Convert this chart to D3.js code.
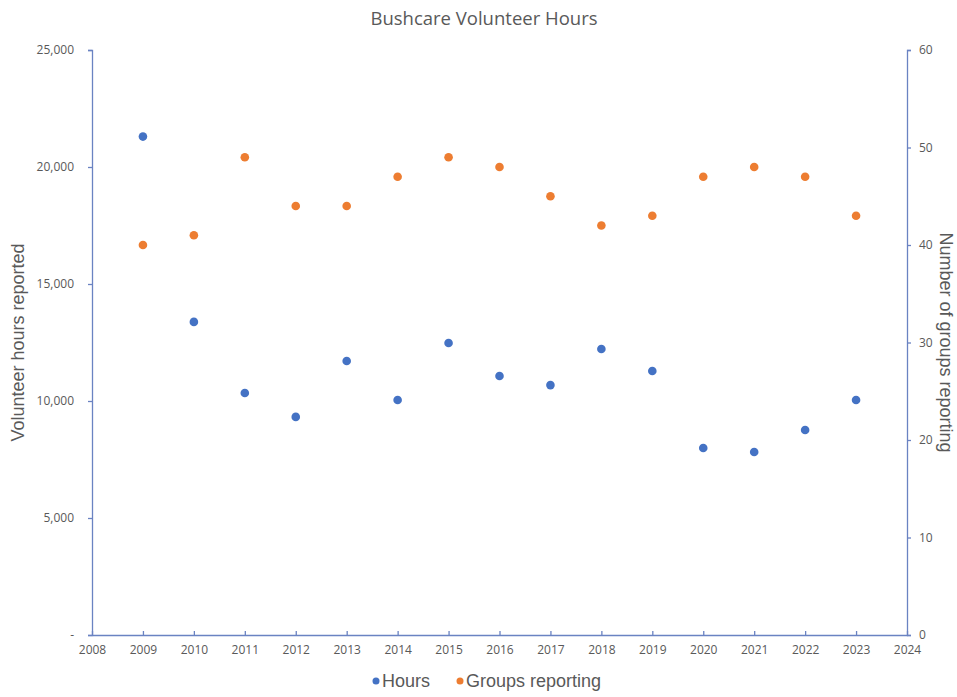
<!DOCTYPE html>
<html>
<head>
<meta charset="utf-8">
<script src="https://cdn.jsdelivr.net/npm/d3@7"></script>
<style>
  body { margin: 0; background: #fff; }
  svg text { fill: #595959; }
</style>
</head>
<body>
<svg id="chart" width="957" height="697"></svg>
<script>
// data
const years = [2009, 2010, 2011, 2012, 2013, 2014, 2015, 2016, 2017, 2018, 2019, 2020, 2021, 2022, 2023];
const hours = [21300, 13380, 10340, 9320, 11710, 10040, 12480, 11070, 10680, 12220, 11280, 7990, 7820, 8760, 10040];
const groups = [40, 41, 49, 44, 44, 47, 49, 48, 45, 42, 43, 47, 48, 47, 43];
const xTicks = [2008, 2009, 2010, 2011, 2012, 2013, 2014, 2015, 2016, 2017, 2018, 2019, 2020, 2021, 2022, 2023, 2024];
const leftTicks = [0, 5000, 10000, 15000, 20000, 25000];
const rightTicks = [0, 10, 20, 30, 40, 50, 60];

const svg = d3.select("#chart");
const margin = { top: 50, right: 50, bottom: 62, left: 92 },
  width = 957 - margin.left - margin.right,
  height = 697 - margin.top - margin.bottom;

const axisColor = "#6a83c2";
const blue = "#4472C4", orange = "#ED7D31";

const x = d3.scaleLinear().domain([2008, 2024]).range([0, width]);
const yL = d3.scaleLinear().domain([0, 25000]).range([height, 0]);
const yR = d3.scaleLinear().domain([0, 60]).range([height, 0]);

const g = svg.append("g")
  .attr("transform", "translate(" + margin.left + "," + margin.top + ")");

const styleAxis = sel => {
  sel.selectAll("path, line").attr("stroke", axisColor).attr("stroke-width", 1.3);
  sel.selectAll("text")
    .style("font-family", "'Open Sans', 'Noto Sans', sans-serif")
    .style("font-size", "12px")
    .attr("fill", "#595959");
};

g.append("g")
  .attr("transform", "translate(0," + height + ")")
  .call(d3.axisBottom(x).tickValues(xTicks).tickFormat(d3.format("d")).tickSizeInner(-4).tickSizeOuter(0).tickPadding(10))
  .call(styleAxis);

g.append("g")
  .call(d3.axisLeft(yL).tickValues(leftTicks)
    .tickFormat(d => d === 0 ? "-" : d3.format(",")(d)).tickSize(4).tickPadding(14))
  .call(styleAxis);

g.append("g")
  .attr("transform", "translate(" + width + ",0)")
  .call(d3.axisRight(yR).tickValues(rightTicks).tickSize(4).tickPadding(8))
  .call(styleAxis);

// points
g.selectAll(".hours")
  .data(years.map((d, i) => [d, hours[i]]))
  .enter().append("circle")
  .attr("class", "hours")
  .attr("cx", d => x(d[0]))
  .attr("cy", d => yL(d[1]))
  .attr("r", 4.3)
  .attr("fill", blue);

g.selectAll(".groups")
  .data(years.map((d, i) => [d, groups[i]]))
  .enter().append("circle")
  .attr("class", "groups")
  .attr("cx", d => x(d[0]))
  .attr("cy", d => yR(d[1]))
  .attr("r", 4.3)
  .attr("fill", orange);

// title
svg.append("text")
  .attr("x", 484).attr("y", 25)
  .attr("text-anchor", "middle")
  .style("font-family", "'Open Sans', 'Noto Sans', sans-serif")
  .style("font-size", "18.5px")
  .text("Bushcare Volunteer Hours");

// axis titles
svg.append("text")
  .attr("transform", "translate(24," + (margin.top + height / 2) + ") rotate(-90)")
  .attr("text-anchor", "middle")
  .style("font-family", "'Liberation Sans', Arial, sans-serif")
  .style("font-size", "18px")
  .text("Volunteer hours reported");

svg.append("text")
  .attr("transform", "translate(940," + (margin.top + height / 2) + ") rotate(90)")
  .attr("text-anchor", "middle")
  .style("font-family", "'Liberation Sans', Arial, sans-serif")
  .style("font-size", "18px")
  .text("Number of groups reporting");

// legend
const legend = svg.append("g").attr("transform", "translate(370,687)");
const items = [{ label: "Hours", color: blue, dx: 0 }, { label: "Groups reporting", color: orange, dx: 84 }];
items.forEach(it => {
  legend.append("circle").attr("cx", it.dx + 6).attr("cy", -6).attr("r", 3.5).attr("fill", it.color);
  legend.append("text")
    .attr("x", it.dx + 12).attr("y", 0)
    .style("font-family", "'Liberation Sans', Arial, sans-serif")
    .style("font-size", "18px")
    .text(it.label);
});
</script>
</body>
</html>
